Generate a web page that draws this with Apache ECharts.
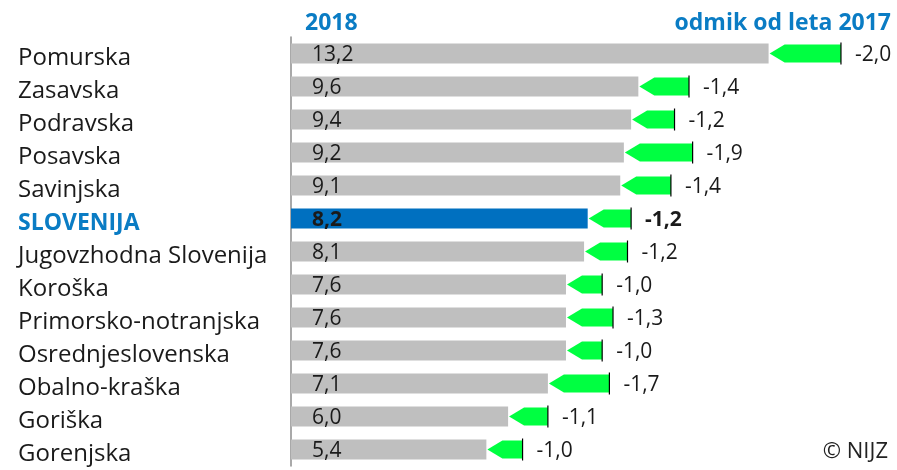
<!DOCTYPE html>
<html>
<head>
<meta charset="utf-8">
<script src="https://cdn.jsdelivr.net/npm/echarts@6/dist/echarts.min.js"></script>
<style>
  html, body { margin: 0; padding: 0; background: #fff; }
  #chart { width: 897px; height: 470px; }
</style>
</head>
<body>
<div id="chart"></div>
<script>
// regije, stopnja v letu 2018 in odmik od leta 2017
const regions = ['Pomurska', 'Zasavska', 'Podravska', 'Posavska', 'Savinjska', 'SLOVENIJA',
  'Jugovzhodna Slovenija', 'Koroška', 'Primorsko-notranjska', 'Osrednjeslovenska',
  'Obalno-kraška', 'Goriška', 'Gorenjska'];
const values2018 = [13.2, 9.6, 9.4, 9.2, 9.1, 8.2, 8.1, 7.6, 7.6, 7.6, 7.1, 6.0, 5.4];
const change2017 = [-2.0, -1.4, -1.2, -1.9, -1.4, -1.2, -1.2, -1.0, -1.3, -1.0, -1.7, -1.1, -1.0];

const FONT = '"Open Sans", sans-serif';
const BLUE = '#0A7CC4';
const fmt = v => v.toFixed(1).replace('.', ',');

const chart = echarts.init(document.getElementById('chart'));

// stolpci 2018
const barData = values2018.map((v, i) => {
  const isSlo = regions[i] === 'SLOVENIJA';
  return {
    value: v,
    itemStyle: { color: isSlo ? '#0070C0' : '#BFBFBF' },
    label: { fontWeight: isSlo ? 'bold' : 'normal' }
  };
});

// puščice: od vrednosti 2018 do vrednosti 2017
const arrowData = values2018.map((v, i) => [i, v, v - change2017[i], change2017[i]]);

const option = {
  animation: false,
  graphic: [
    {
      type: 'text', x: 305, y: 23,
      style: { text: '2018', fontSize: 23, fontWeight: 'bold', fontFamily: FONT, fill: BLUE,
        align: 'left', verticalAlign: 'middle' }
    },
    {
      type: 'text', x: 891, y: 23,
      style: { text: 'odmik od leta 2017', fontSize: 23, fontWeight: 'bold', fontFamily: FONT, fill: BLUE,
        align: 'right', verticalAlign: 'middle' }
    },
    {
      type: 'text', x: 888, y: 452,
      style: { text: '© NIJZ', fontSize: 22, fontFamily: FONT, fill: '#222',
        align: 'right', verticalAlign: 'middle' }
    }
  ],
  grid: { left: 291, top: 37, width: 597, height: 429 },
  xAxis: {
    type: 'value', min: 0, max: 16.5, show: false
  },
  yAxis: {
    type: 'category',
    data: regions,
    inverse: true,
    axisLine: { show: true, lineStyle: { color: '#8C8C8C', width: 1.5 } },
    axisTick: { show: false },
    axisLabel: {
      align: 'left', margin: 273,
      color: '#1a1a1a', fontSize: 24, fontFamily: FONT,
      padding: [9, 0, 0, 0],
      formatter: v => v === 'SLOVENIJA' ? '{s|' + v + '}' : v,
      rich: {
        s: { color: BLUE, fontWeight: 'bold', fontSize: 23, fontFamily: FONT }
      }
    }
  },
  series: [
    {
      type: 'bar',
      data: barData,
      barWidth: 20,
      label: {
        show: true, position: 'insideLeft', offset: [16, 2],
        color: '#1a1a1a', fontSize: 21, fontFamily: FONT,
        formatter: p => fmt(p.value)
      }
    },
    {
      type: 'custom',
      data: arrowData,
      encode: { x: [1, 2], y: 0 },
      renderItem: (params, api) => {
        const i = api.value(0);
        const p1 = api.coord([api.value(1), i]);
        const p2 = api.coord([api.value(2), i]);
        const h = 18, head = 15;
        const x1 = p1[0] + 1, x2 = p2[0], cy = p1[1];
        const isSlo = regions[i] === 'SLOVENIJA';
        return {
          type: 'group',
          children: [
            {
              type: 'polygon',
              shape: { points: [[x1, cy], [x1 + head, cy - h / 2], [x2, cy - h / 2], [x2, cy + h / 2], [x1 + head, cy + h / 2]] },
              style: { fill: '#00FF41' }
            },
            {
              type: 'line',
              shape: { x1: x2, y1: cy - 11, x2: x2, y2: cy + 11 },
              style: { stroke: '#000', lineWidth: 1.2 }
            },
            {
              type: 'text',
              x: x2 + 14, y: cy + 2,
              style: {
                text: fmt(api.value(3)),
                fontSize: 21, fontFamily: FONT,
                fontWeight: isSlo ? 'bold' : 'normal',
                fill: '#1a1a1a', verticalAlign: 'middle'
              }
            }
          ]
        };
      }
    }
  ]
};

chart.setOption(option);
</script>
</body>
</html>
